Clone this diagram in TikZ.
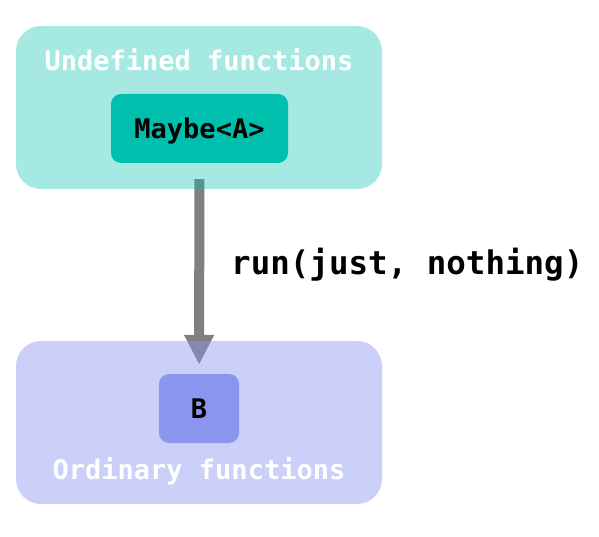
\documentclass[tikz,border=0pt]{standalone}
\usepackage{fontspec}
\setmonofont{DejaVu Sans Mono}
\usetikzlibrary{positioning,arrows.meta}
\pgfdeclarelayer{background}
\pgfsetlayers{background,main}
\definecolor{tealbase}{RGB}{0,191,173}
\definecolor{lavbase}{RGB}{138,150,238}
\definecolor{arrowgray}{RGB}{128,128,128}
\begin{document}
\begin{tikzpicture}[%
    x=1pt, y=-1pt,
    font=\ttfamily\bfseries\fontsize{27}{32}\selectfont,
    group/.style={rounded corners=25pt, minimum width=366pt, minimum height=163pt, inner sep=0pt},
    typebox/.style={rounded corners=10pt, minimum height=69pt, inner sep=0pt, text depth=0pt},
    title/.style={text=white, inner sep=0pt}
  ]
    \useasboundingbox (0,0) rectangle (599,537);

    \node[group, fill=tealbase, fill opacity=0.35] (undef) at (199,107.5) {};
    \node[title] (undeft) at (199,60) {Undefined functions};
    \node[typebox, fill=tealbase, minimum width=177pt] (maybe) at (199.5,128.5) {Maybe<A>};

    \node[group, fill=lavbase, fill opacity=0.45] (ord) at (199,422.5) {};
    \node[typebox, fill=lavbase, minimum width=80pt] (b) at (199,408.5) {B};
    \node[title] (ordt) at (199,471) {Ordinary functions};

    \node[anchor=west, inner sep=0pt, font=\ttfamily\bfseries\fontsize{32.5}{38}\selectfont]
      (run) at (231,265) {run(just, nothing)};

    \begin{pgfonlayer}{background}
      \draw[arrowgray, line width=10pt, shorten <=16pt, shorten >=9pt,
        -{Triangle[length=30pt,width=28pt]}] (maybe) -- (b);
    \end{pgfonlayer}
  \end{tikzpicture}
\end{document}
